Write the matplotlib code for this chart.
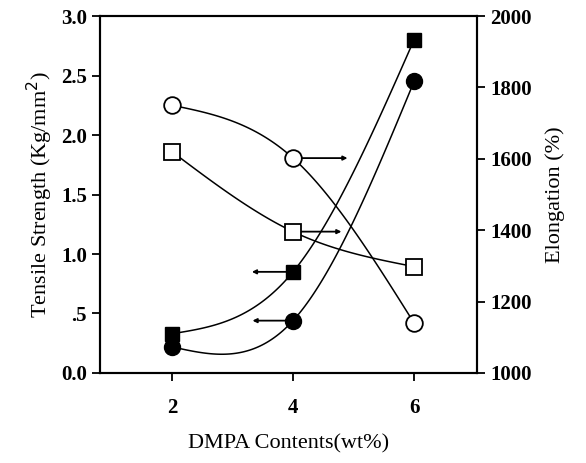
import numpy as np
import matplotlib.pyplot as plt

plt.rcParams['font.family'] = ['Liberation Serif', 'DejaVu Serif']

# DMPA contents (wt%)
dmpa = [2, 4, 6]
# tensile strength (Kg/mm2), left axis
ts_sq = [0.33, 0.85, 2.80]
ts_ci = [0.22, 0.44, 2.45]
# elongation (%), right axis
el_ci = [1750, 1602, 1140]
el_sq = [1620, 1396, 1298]

def smooth(x, y, n=60):
  # natural cubic spline through the points, only for the drawn line
  x = np.asarray(x, float); y = np.asarray(y, float)
  h = np.diff(x)
  k = len(x)
  A = np.zeros((k, k)); r = np.zeros(k)
  A[0, 0] = A[-1, -1] = 1
  for i in range(1, k-1):
    A[i, i-1] = h[i-1]; A[i, i] = 2*(h[i-1]+h[i]); A[i, i+1] = h[i]
    r[i] = 6*((y[i+1]-y[i])/h[i] - (y[i]-y[i-1])/h[i-1])
  M = np.linalg.solve(A, r)
  xs, ys = [], []
  for i in range(k-1):
    t = np.linspace(x[i], x[i+1], n)
    a = x[i+1]-t; b = t-x[i]
    s = (M[i]*a**3 + M[i+1]*b**3)/(6*h[i]) + (y[i]/h[i] - M[i]*h[i]/6)*a + (y[i+1]/h[i] - M[i+1]*h[i]/6)*b
    xs.append(t); ys.append(s)
  return np.concatenate(xs), np.concatenate(ys)

fig = plt.figure(figsize=(5.86, 4.63), dpi=100)
ax = fig.add_axes([0.1706, 0.1944, 0.6434, 0.771])
ax2 = ax.twinx()

for y, m, s in [(ts_sq, 's', 10.5), (ts_ci, 'o', 11.5)]:
  xs, ys = smooth(dmpa, y)
  ax.plot(xs, ys, color='black', lw=1.1)
  ax.plot(dmpa, y, m, color='black', ms=s, zorder=3)

for y, m, s in [(el_ci, 'o', 12), (el_sq, 's', 11)]:
  xs, ys = smooth(dmpa, y)
  ax2.plot(xs, ys, color='black', lw=1.1, zorder=1)
  ax2.plot(dmpa, y, m, mfc='white', mec='black', mew=1.3, ms=s, zorder=3)

# arrows pointing at the axis each series belongs to
arw = dict(arrowstyle='-|>', color='black', lw=1.3, mutation_scale=6, shrinkA=0, shrinkB=0)
ax.annotate('', xy=(3.32, ts_sq[1]), xytext=(4.0, ts_sq[1]), arrowprops=arw, zorder=2)
ax.annotate('', xy=(3.33, ts_ci[1]), xytext=(4.0, ts_ci[1]), arrowprops=arw, zorder=2)
ax2.annotate('', xy=(4.9, el_ci[1]), xytext=(4.0, el_ci[1]), arrowprops=arw, zorder=2)
ax2.annotate('', xy=(4.8, el_sq[1]), xytext=(4.0, el_sq[1]), arrowprops=arw, zorder=2)

ax.set_xlim(0.81, 7.04)
ax.set_ylim(0, 3.0)
ax2.set_ylim(1000, 2000)

ax.set_xticks(dmpa)
ax.set_yticks([0, 0.5, 1.0, 1.5, 2.0, 2.5, 3.0])
ax.set_yticklabels(['0.0', '.5', '1.0', '1.5', '2.0', '2.5', '3.0'])
ax2.set_yticks([1000, 1200, 1400, 1600, 1800, 2000])

for a in (ax, ax2):
  a.tick_params(direction='out', length=6, width=1.3, labelsize=15)
  for lab in a.get_xticklabels() + a.get_yticklabels():
    lab.set_fontweight('bold')
  for s in a.spines.values():
    s.set_linewidth(1.5)
ax.tick_params(axis='x', pad=12)

ax.set_xlabel('DMPA Contents(wt%)', fontsize=16, labelpad=12)
ax.set_ylabel('Tensile Strength (Kg/mm$^2$)', fontsize=16, labelpad=4)
ax2.set_ylabel('Elongation (%)', fontsize=16, labelpad=10)

fig.savefig('out.png', dpi=100)
